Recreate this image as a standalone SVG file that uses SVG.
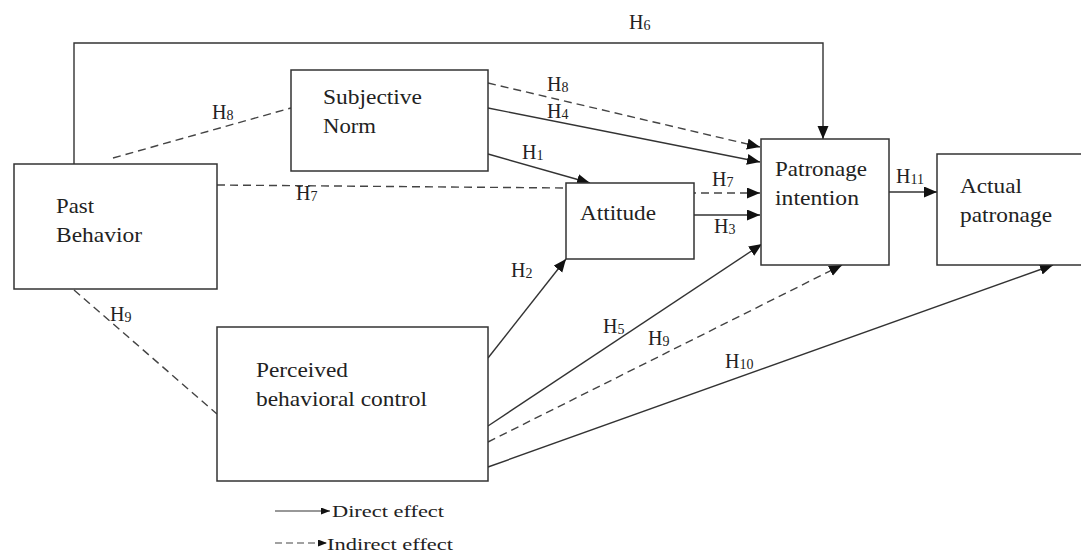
<svg xmlns="http://www.w3.org/2000/svg" width="1081" height="553" viewBox="0 0 1081 553">
<defs>
<marker id="arr" markerUnits="userSpaceOnUse" markerWidth="14" markerHeight="12" refX="13" refY="5.5" orient="auto">
<path d="M0,0 L13,5.5 L0,11 z" fill="#111"/>
</marker>
<marker id="arrs" markerUnits="userSpaceOnUse" markerWidth="10" markerHeight="8" refX="9" refY="3.5" orient="auto">
<path d="M0,0 L9,3.5 L0,7 z" fill="#111"/>
</marker>
</defs>
<style>
.box{fill:#fff;stroke:#333;stroke-width:1.5}
.t{font-family:"Liberation Serif","Times New Roman",serif;font-size:21px;fill:#222}
.h{font-family:"Liberation Serif","Times New Roman",serif;font-size:20px;fill:#222}
.s{font-size:14px}
.lg{font-family:"Liberation Serif","Times New Roman",serif;font-size:17px;fill:#222}
.sol{fill:none;stroke:#333;stroke-width:1.4}
.dsh{fill:none;stroke:#444;stroke-width:1.4;stroke-dasharray:8,5}
</style>
<rect width="1081" height="553" fill="#fff"/>
<g id="connectors">
<path class="sol" d="M74,164 V43 H823 V139" marker-end="url(#arr)"/>
<line class="dsh" x1="113" y1="158" x2="291" y2="108"/>
<line class="dsh" x1="217" y1="185" x2="566" y2="188"/>
<line class="dsh" x1="74" y1="290" x2="217" y2="414"/>
<line class="dsh" x1="488" y1="83" x2="760" y2="147" marker-end="url(#arr)"/>
<line class="sol" x1="488" y1="108" x2="760" y2="162" marker-end="url(#arr)"/>
<line class="sol" x1="488" y1="154" x2="590" y2="183" marker-end="url(#arr)"/>
<line class="dsh" x1="688" y1="193" x2="760" y2="193" marker-end="url(#arr)"/>
<line class="sol" x1="694" y1="215" x2="760" y2="215" marker-end="url(#arr)"/>
<line class="sol" x1="889" y1="192" x2="937" y2="192" marker-end="url(#arr)"/>
<line class="sol" x1="488" y1="358" x2="566" y2="259" marker-end="url(#arr)"/>
<line class="sol" x1="488" y1="426" x2="762" y2="244" marker-end="url(#arr)"/>
<line class="dsh" x1="488" y1="442" x2="842" y2="265" marker-end="url(#arr)"/>
<line class="sol" x1="488" y1="467" x2="1053" y2="265" marker-end="url(#arr)"/>
</g>
<g id="past-behavior">
<rect class="box" x="14" y="164" width="203" height="125"/>
<text class="t" x="56" y="213" textLength="38" lengthAdjust="spacingAndGlyphs">Past</text>
<text class="t" x="56" y="242" textLength="86" lengthAdjust="spacingAndGlyphs">Behavior</text>
</g>
<g id="subjective-norm">
<rect class="box" x="291" y="70" width="197" height="101"/>
<text class="t" x="323" y="104" textLength="99" lengthAdjust="spacingAndGlyphs">Subjective</text>
<text class="t" x="323" y="133" textLength="53" lengthAdjust="spacingAndGlyphs">Norm</text>
</g>
<g id="attitude">
<rect class="box" x="566" y="183" width="128" height="76"/>
<text class="t" x="580" y="220" textLength="76" lengthAdjust="spacingAndGlyphs">Attitude</text>
</g>
<g id="patronage-intention">
<rect class="box" x="761" y="139" width="128" height="126"/>
<text class="t" x="775" y="176" textLength="92" lengthAdjust="spacingAndGlyphs">Patronage</text>
<text class="t" x="775" y="205" textLength="84" lengthAdjust="spacingAndGlyphs">intention</text>
</g>
<g id="actual-patronage">
<rect class="box" x="937" y="154" width="150" height="111"/>
<text class="t" x="960" y="193" textLength="62" lengthAdjust="spacingAndGlyphs">Actual</text>
<text class="t" x="960" y="222" textLength="92" lengthAdjust="spacingAndGlyphs">patronage</text>
</g>
<g id="perceived-behavioral-control">
<rect class="box" x="217" y="327" width="271" height="154"/>
<text class="t" x="256" y="377" textLength="92" lengthAdjust="spacingAndGlyphs">Perceived</text>
<text class="t" x="256" y="406" textLength="171" lengthAdjust="spacingAndGlyphs">behavioral control</text>
</g>
<g id="labels">
<text class="h" x="629" y="29">H<tspan class="s" dy="1">6</tspan></text>
<text class="h" x="212" y="119">H<tspan class="s" dy="1">8</tspan></text>
<text class="h" x="547" y="91">H<tspan class="s" dy="1">8</tspan></text>
<text class="h" x="547" y="118">H<tspan class="s" dy="1">4</tspan></text>
<text class="h" x="522" y="159">H<tspan class="s" dy="1">1</tspan></text>
<text class="h" x="296" y="200">H<tspan class="s" dy="1">7</tspan></text>
<text class="h" x="712" y="186">H<tspan class="s" dy="1">7</tspan></text>
<text class="h" x="714" y="233">H<tspan class="s" dy="1">3</tspan></text>
<text class="h" x="896" y="183">H<tspan class="s" dy="1">11</tspan></text>
<text class="h" x="511" y="277">H<tspan class="s" dy="1">2</tspan></text>
<text class="h" x="110" y="321">H<tspan class="s" dy="1">9</tspan></text>
<text class="h" x="603" y="333">H<tspan class="s" dy="1">5</tspan></text>
<text class="h" x="648" y="345">H<tspan class="s" dy="1">9</tspan></text>
<text class="h" x="725" y="368">H<tspan class="s" dy="1">10</tspan></text>
</g>
<g id="legend">
<line class="sol" x1="275" y1="511" x2="330" y2="511" marker-end="url(#arrs)" style="stroke-width:1.2"/>
<text class="lg" x="332" y="517" textLength="112" lengthAdjust="spacingAndGlyphs">Direct effect</text>
<line class="dsh" x1="275" y1="543" x2="327" y2="543" marker-end="url(#arrs)" style="stroke-dasharray:7,4;stroke-width:1.2"/>
<text class="lg" x="327" y="550" textLength="126" lengthAdjust="spacingAndGlyphs">Indirect effect</text>
</g>
</svg>
